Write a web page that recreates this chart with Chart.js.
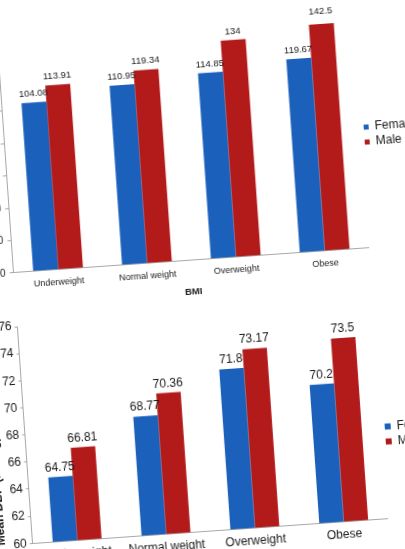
<!DOCTYPE html>
<html>
<head>
<meta charset="utf-8">
<script src="https://cdn.jsdelivr.net/npm/chart.js@4"></script>
<style>
  html, body { margin: 0; padding: 0; background: #fff; width: 405px; height: 549px; overflow: hidden; }
  .wrap { position: absolute; transform: rotate(-4deg); }
  .wrap canvas { display: block; }
</style>
</head>
<body>
<div class="wrap" id="wrapSbp"><canvas id="sbpChart"></canvas></div>
<div class="wrap" id="wrapDbp"><canvas id="dbpChart"></canvas></div>
<script>
const categories = ['Underweight', 'Normal weight', 'Overweight', 'Obese'];
const sbpFemale = [104.08, 110.95, 114.85, 119.67];
const sbpMale = [113.91, 119.34, 134, 142.5];
const dbpFemale = [64.75, 68.77, 71.8, 70.2];
const dbpMale = [66.81, 70.36, 73.17, 73.5];

const blue = '#1b61bc';
const red = '#b31b1b';
const axisGrey = '#a8a8a8';

Chart.defaults.font.family = '"Liberation Sans", Arial, sans-serif';
Chart.defaults.color = '#1a1a1a';

// numbers above each bar
const valueLabels = {
  id: 'valueLabels',
  afterDatasetsDraw(chart, args, opts) {
    const ctx = chart.ctx;
    ctx.save();
    ctx.font = opts.size + 'px "Liberation Sans", Arial, sans-serif';
    ctx.fillStyle = '#1a1a1a';
    ctx.textAlign = 'center';
    ctx.textBaseline = 'alphabetic';
    chart.data.datasets.forEach((ds, i) => {
      chart.getDatasetMeta(i).data.forEach((bar, j) => {
        ctx.fillText(String(ds.data[j]), bar.x, bar.y - opts.gap);
      });
    });
    ctx.restore();
  }
};

const barData = (female, male) => ({
  labels: categories,
  datasets: [
    { label: 'Female', data: female, backgroundColor: blue },
    { label: 'Male', data: male, backgroundColor: red }
  ]
});

const sbpConfig = () => ({
  type: 'bar',
  data: barData(sbpFemale, sbpMale),
  options: {
    responsive: false,
    animation: false,
    devicePixelRatio: 1,
    datasets: { bar: { barPercentage: 1, categoryPercentage: 0.56 } },
    layout: { padding: { top: 30, right: 30, bottom: 4 } },
    scales: {
      x: {
        grid: { display: false, drawTicks: false },
        border: { color: axisGrey },
        ticks: { font: { size: 9 }, padding: 7, maxRotation: 0, autoSkip: false },
        title: { display: true, text: 'BMI', font: { size: 9.5, weight: 'bold' }, padding: { top: 1 } }
      },
      y: {
        min: 0, max: 140,
        ticks: { stepSize: 20, font: { size: 10 }, padding: 4 },
        grid: { drawOnChartArea: false, tickLength: 4, color: axisGrey },
        border: { color: axisGrey },
        title: { display: true, text: 'Mean SBP (mmHg)', font: { size: 10, weight: 'bold' } }
      }
    },
    plugins: {
      legend: { position: 'right', fullSize: false, labels: { boxWidth: 5, boxHeight: 5, padding: 3, font: { size: 12 } } },
      tooltip: { enabled: false },
      valueLabels: { size: 9.5, gap: 6 }
    }
  },
  plugins: [valueLabels]
});

const dbpConfig = () => ({
  type: 'bar',
  data: barData(dbpFemale, dbpMale),
  options: {
    responsive: false,
    animation: false,
    devicePixelRatio: 1,
    datasets: { bar: { barPercentage: 1, categoryPercentage: 0.55 } },
    layout: { padding: { top: 12, right: 30, bottom: 4 } },
    scales: {
      x: {
        grid: { display: false, drawTicks: false },
        border: { color: axisGrey },
        ticks: { font: { size: 12 }, padding: 6, maxRotation: 0, autoSkip: false },
        title: { display: true, text: 'BMI', font: { size: 12, weight: 'bold' }, padding: { top: 4 } }
      },
      y: {
        min: 60, max: 76,
        ticks: { stepSize: 2, font: { size: 12 }, padding: 3 },
        grid: { drawOnChartArea: false, tickLength: 3, color: axisGrey },
        border: { color: axisGrey },
        title: { display: true, text: 'Mean DBP (mmHg)', align: 'start', font: { size: 12, weight: 'bold' }, padding: { top: 4, bottom: 2 } }
      }
    },
    plugins: {
      legend: { position: 'right', labels: { boxWidth: 6, boxHeight: 6, padding: 3, font: { size: 12 } } },
      tooltip: { enabled: false },
      valueLabels: { size: 12, gap: 6 }
    }
  },
  plugins: [valueLabels]
});

// size the canvas so the plot area has the wanted size, then pin its corner and tilt it
function place(canvasId, wrapId, makeConfig, areaW, areaH, ox, oy) {
  const canvas = document.getElementById(canvasId);
  canvas.width = 480;
  canvas.height = 320;
  let chart = new Chart(canvas, makeConfig());
  let a = chart.chartArea;
  const w = Math.round(480 + areaW - (a.right - a.left));
  const h = Math.round(320 + areaH - (a.bottom - a.top));
  chart.destroy();
  canvas.width = w;
  canvas.height = h;
  chart = new Chart(canvas, makeConfig());
  a = chart.chartArea;
  const wrap = document.getElementById(wrapId);
  wrap.style.left = (ox - a.left) + 'px';
  wrap.style.top = (oy - a.bottom) + 'px';
  wrap.style.transformOrigin = a.left + 'px ' + a.bottom + 'px';
  return chart;
}

place('sbpChart', 'wrapSbp', sbpConfig, 356, 227, 14, 273);
place('dbpChart', 'wrapDbp', dbpConfig, 356, 217, 33, 543);
</script>
</body>
</html>
